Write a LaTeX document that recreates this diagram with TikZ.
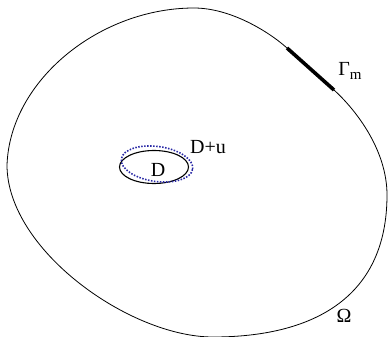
\documentclass[tikz,border=0pt]{standalone}
\usepackage{fontspec}
\setmainfont{Liberation Serif}
\usepackage{tikz}
\usetikzlibrary{positioning,shapes.geometric}
\definecolor{dotblue}{RGB}{40,40,165}
\newcommand{\subm}{{\fontsize{15}{15}\selectfont\raisebox{-4pt}{m}}}

\begin{document}
\begin{tikzpicture}[x=1pt,y=-1pt,
  boundary/.style={line width=0.8pt},
  gammam/.style={line width=3.6pt},
  inclusion/.style={line width=1.1pt},
  moved/.style={dotblue,line width=1.6pt,dash pattern=on 1.5pt off 1.5pt},
  lbl/.style={inner sep=0pt,font=\fontsize{20}{22}\selectfont}
]
  \useasboundingbox (0,0) rectangle (388,337);
  \coordinate (left) at (7,165);
  \coordinate (top) at (194,8);
  \coordinate (gstart) at (287,48);
  \coordinate (gend) at (334,90);
  \coordinate (right) at (387,195);
  \coordinate (bottom) at (213,337);
  \draw[boundary] (left) .. controls (10,80) and (100,8) .. (top)
    .. controls (230,8) and (268,31) .. (gstart) -- (gend)
    .. controls (356,110) and (387,150) .. (right)
    .. controls (387,300) and (310,337) .. (bottom)
    .. controls (130,337) and (7,250) .. (left) -- cycle;
  \draw[gammam] (gstart) -- (gend);
  \node[draw,inclusion,ellipse,minimum width=69pt,minimum height=33pt,
        inner sep=0pt] (incl) at (154,167) {};
  \node[draw,moved,ellipse,minimum width=72pt,minimum height=35pt,
        inner sep=0pt,rotate=-8] (incl moved) at (157,164) {};
  \node[lbl] (dlabel) at (158,170) {D};
  \node[lbl] (dulabel) at (208,147) {D+u};
  \node[lbl] (gammalabel) at (350,71) {Γ\subm};
  \node[lbl] (omegalabel) at (344,316) {Ω};
\end{tikzpicture}
\end{document}
